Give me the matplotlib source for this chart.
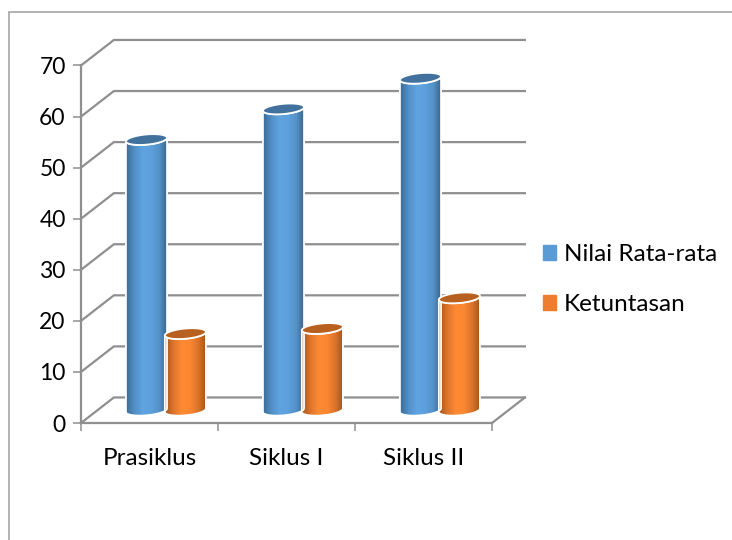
import numpy as np
import matplotlib
matplotlib.use('Agg')
import matplotlib.pyplot as plt
from matplotlib.patches import Patch, PathPatch, Polygon
from matplotlib.lines import Line2D
from matplotlib.path import Path
from matplotlib.colors import LinearSegmentedColormap

plt.rcParams['font.family'] = ['Lato', 'DejaVu Sans']

categories = ['Prasiklus', 'Siklus I', 'Siklus II']
nilai = [53, 59, 65]
ketuntasan = [15, 16, 22]
y_ticks = [0, 10, 20, 30, 40, 50, 60, 70]

GRID = '#8f8f8f'
DEPTH_X = 0.24   # depth of the fake 3d box, in category units
DEPTH_Y = 5.0    # same, in value units
HALF_W = 0.15
OFFSET = 0.142
ELL_H = 1.0
SHEAR = 0.35


def cylinder(ax, xc, val, cmap, top_color):
    t = np.linspace(0, 2 * np.pi, 100)
    base = DEPTH_Y / 2
    top = base + val
    cx = xc + DEPTH_X / 2
    # front half goes round the bottom, back half closes over the top
    low = np.linspace(np.pi, 2 * np.pi, 50)
    xs = np.cos(low)
    bx = cx + HALF_W * xs
    by = base + ELL_H * np.sin(low) + SHEAR * ELL_H * xs
    ux = bx[::-1]
    uy = top + ELL_H * np.sin(low[::-1]) + SHEAR * ELL_H * xs[::-1]
    body = np.vstack([np.c_[bx, by], np.c_[ux, uy]])
    patch = Polygon(body, closed=True, fc='none', ec='white', lw=1.3, zorder=4)
    ax.add_patch(patch)
    grad = np.linspace(0, 1, 128).reshape(1, -1)
    im = ax.imshow(grad, extent=[cx - HALF_W, cx + HALF_W, base - 2, top + 2],
                   aspect='auto', cmap=cmap, zorder=3)
    clip = PathPatch(Path(body), transform=ax.transData)
    im.set_clip_path(clip)
    ex = cx + HALF_W * np.cos(t)
    ey = top + ELL_H * np.sin(t) + SHEAR * ELL_H * np.cos(t)
    ax.add_patch(Polygon(np.c_[ex, ey], closed=True, fc=top_color, ec='white', lw=1.3, zorder=5))


blue_map = LinearSegmentedColormap.from_list('b', ['#3d6c95', '#528fc6', '#5fa3e2', '#5da0dc', '#5491c8', '#38607f'])
orange_map = LinearSegmentedColormap.from_list('o', ['#a5561c', '#dd752c', '#ff8a33', '#fb8732', '#d9732a', '#9c5219'])

fig = plt.figure(figsize=(7.32, 5.40), dpi=100)
W, H = 732, 540
ax = fig.add_axes([81 / W, (H - 423) / H, 411 / W, (423 - 65.5) / H])
ax.patch.set_visible(False)

# outer frame of the chart, only left and top are visible
fig.add_artist(Line2D([8.5 / W, 8.5 / W, 1], [0, (H - 12) / H, (H - 12) / H], transform=fig.transFigure,
                      color='#a6a6a6', lw=1.2, solid_joinstyle='miter'))

n = len(categories)
for v in y_ticks:
    ax.plot([0, DEPTH_X, n + DEPTH_X], [v, v + DEPTH_Y, v + DEPTH_Y], color=GRID, lw=1.6,
            clip_on=False, zorder=2, solid_joinstyle='miter')
ax.plot([n, n + DEPTH_X], [0, DEPTH_Y], color=GRID, lw=1.6, clip_on=False, zorder=2)

for i in range(n):
    cylinder(ax, i + 0.5 - OFFSET, nilai[i], blue_map, '#41719c')
    cylinder(ax, i + 0.5 + OFFSET, ketuntasan[i], orange_map, '#b8601f')

ax.set_xlim(0, n)
ax.set_ylim(0, 70)
ax.set_yticks(y_ticks)
ax.set_xticks(np.arange(n + 1))
ax.set_xticklabels([])
ax.set_xticks(np.arange(n) + 0.5, minor=True)
ax.set_xticklabels(categories, minor=True)
ax.tick_params(axis='y', length=6, width=1.1, color=GRID, labelsize=16.5, pad=5)
ax.tick_params(axis='x', which='major', length=5.5, width=1.1, color=GRID)
ax.tick_params(axis='x', which='minor', length=0, labelsize=17.5, pad=18)
for s in ['top', 'right']:
    ax.spines[s].set_visible(False)
for s in ['left', 'bottom']:
    ax.spines[s].set_color(GRID)
    ax.spines[s].set_linewidth(1.6)

handles = [Patch(color='#5b9bd5', label='Nilai Rata-rata'), Patch(color='#ed7d31', label='Ketuntasan')]
fig.legend(handles=handles, loc='center left', bbox_to_anchor=(543 / W, (H - 279.5) / H), frameon=False,
           fontsize=17.5, handlelength=0.54, handleheight=0.54, handletextpad=0.33, labelspacing=1.2,
           borderpad=0, borderaxespad=0)

fig.savefig('out.png', dpi=100)
